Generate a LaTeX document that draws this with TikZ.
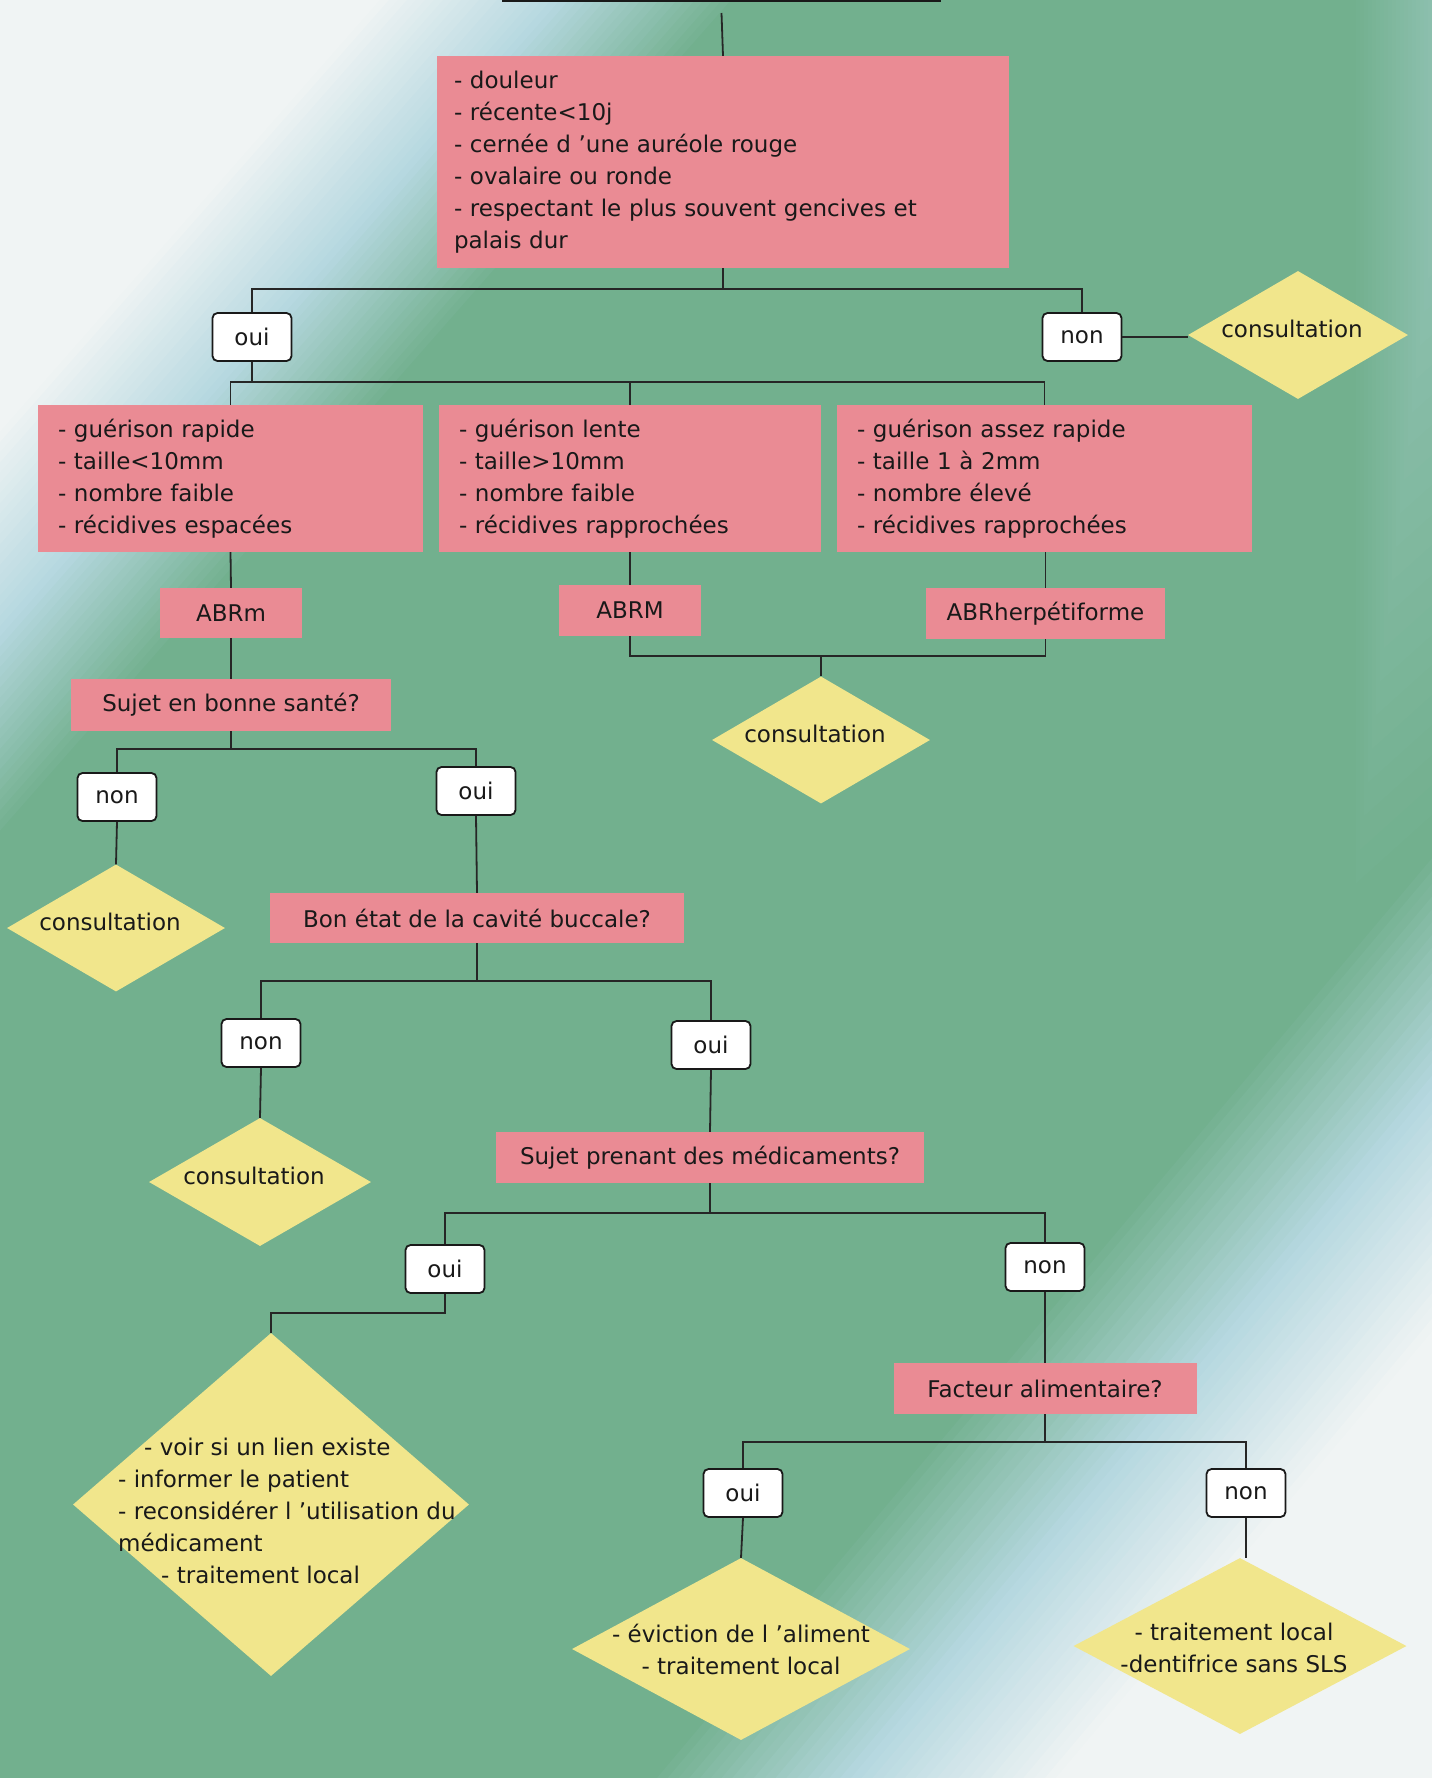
\documentclass[tikz,border=0pt]{standalone}
\usepackage{fontspec}
\setmainfont{DejaVu Sans}
\usetikzlibrary{shapes.geometric}
\definecolor{pinkbox}{RGB}{234,139,148}
\definecolor{yellowd}{RGB}{241,230,140}
\definecolor{bgGreen}{RGB}{114,176,142}
\definecolor{bgBlue}{RGB}{182,216,224}
\definecolor{bgWhite}{RGB}{240,244,244}
\tikzset{
  every node/.style={font=\fontsize{23}{32}\selectfont, text=black!90},
  redbox/.style={fill=pinkbox, inner sep=0pt, align=center},
  diam/.style={diamond, fill=yellowd, inner sep=0pt},
  dtext/.style={inner sep=0pt, align=center},
  wbox/.style={draw=black!90, line width=1.8pt, rounded corners=5pt, fill=white,
    minimum width=79pt, minimum height=48pt, inner sep=0pt},
  conn/.style={line width=1.8pt, black!85},
}
\begin{document}
\begin{tikzpicture}[x=1pt,y=-1pt]
\useasboundingbox (0,0) rectangle (1432,1778);
\begin{scope}
\clip (0,0) rectangle (1432,1778);
\fill[bgGreen] (0,0) rectangle (1432,1778);
% right edge bluish tint (upper part), fading out downwards
\foreach \i in {0,...,20}{
  \pgfmathsetmacro\bandx{1352+4*\i}
  \pgfmathsetmacro\bandy{845-30*\i}
  \pgfmathtruncatemacro\bandq{100-\i*2}
  \colorlet{bandc}{bgGreen!\bandq!bgBlue}
  \fill[bandc] (\bandx,0) -- (1432,0) -- (1432,\bandy) -- (\bandx,{\bandy+0.9*(1432-\bandx)}) -- cycle;
}
% top-left light area
\foreach \i in {40,39,...,0}{
  \pgfmathsetmacro\bandd{380+9*\i}
  \pgfmathtruncatemacro\bandp{\i*5/2}
  \ifnum\bandp>50
    \pgfmathtruncatemacro\bandq{2*\bandp-100}\colorlet{bandc}{bgGreen!\bandq!bgBlue}
  \else
    \pgfmathtruncatemacro\bandq{2*\bandp}\colorlet{bandc}{bgBlue!\bandq!bgWhite}
  \fi
  \fill[bandc] (0,0) -- (\bandd,0) -- (0,{\bandd/0.88}) -- cycle;
}
% bottom-right light area
\foreach \i in {0,...,38}{
  \pgfmathsetmacro\bandd{1990+10*\i}
  \pgfmathsetmacro\bandx{(\bandd-1390.4)/0.928}
  \pgfmathsetmacro\bandy{(\bandd-1328.9)/0.782}
  \pgfmathtruncatemacro\bandp{100-\i*100/38}
  \ifnum\bandp>50
    \pgfmathtruncatemacro\bandq{2*\bandp-100}\colorlet{bandc}{bgGreen!\bandq!bgBlue}
  \else
    \pgfmathtruncatemacro\bandq{2*\bandp}\colorlet{bandc}{bgBlue!\bandq!bgWhite}
  \fi
  \fill[bandc] (\bandx,1778) -- (1432,\bandy) -- (1432,1778) -- cycle;
}
% partly visible box at the top
\node[draw=black!90, line width=2pt, minimum width=437pt, minimum height=62pt] (top) at (721.5,-30) {};
\end{scope}

% red boxes
\node[redbox, minimum width=572pt, minimum height=212pt, text width=538pt, align=left] (big) at (723,162)
  {- douleur\\- récente<10j\\- cernée d ’une auréole rouge\\- ovalaire ou ronde\\- respectant le plus souvent gencives et\\palais dur};
\node[redbox, minimum width=385pt, minimum height=147pt, text width=345pt, align=left] (b1) at (230.5,478.5)
  {- guérison rapide\\- taille<10mm\\- nombre faible\\- récidives espacées};
\node[redbox, minimum width=382pt, minimum height=147pt, text width=342pt, align=left] (b2) at (630,478.5)
  {- guérison lente\\- taille>10mm\\- nombre faible\\- récidives rapprochées};
\node[redbox, minimum width=415pt, minimum height=147pt, text width=375pt, align=left] (b3) at (1044.5,478.5)
  {- guérison assez rapide\\- taille 1 à 2mm\\- nombre élevé\\- récidives rapprochées};
\node[redbox, minimum width=142pt, minimum height=50pt] (abrm) at (231,613) {ABRm};
\node[redbox, minimum width=142pt, minimum height=51pt] (abrM) at (630,610.5) {ABRM};
\node[redbox, minimum width=239pt, minimum height=51pt] (abrh) at (1045.5,613.5) {ABRherpétiforme};
\node[redbox, minimum width=320pt, minimum height=52pt] (sujet) at (231,705) {Sujet en bonne santé?};
\node[redbox, minimum width=414pt, minimum height=50pt] (bon) at (477,918) {Bon état de la cavité buccale?};
\node[redbox, minimum width=428pt, minimum height=51pt] (med) at (710,1157.5) {Sujet prenant des médicaments?};
\node[redbox, minimum width=303pt, minimum height=51pt] (fact) at (1045,1388.5) {Facteur alimentaire?};

% white boxes
\node[wbox] (oui1) at (252,337) {oui};
\node[wbox] (non1) at (1082,337) {non};
\node[wbox] (non2) at (117,797) {non};
\node[wbox] (oui2) at (476,791) {oui};
\node[wbox] (non3) at (261,1043) {non};
\node[wbox] (oui3) at (711,1045) {oui};
\node[wbox] (oui4) at (445,1269) {oui};
\node[wbox] (non4) at (1045,1267) {non};
\node[wbox] (oui5) at (743,1493) {oui};
\node[wbox] (non5) at (1246,1493) {non};

% diamonds
\node[diam, minimum width=220pt, minimum height=128pt] (c1) at (1298,335) {};
\node[dtext] (c1t) at ([xshift=-6pt,yshift=6pt]c1.center) {consultation};
\node[diam, minimum width=218pt, minimum height=127pt] (cM) at (821,740) {};
\node[dtext] (cMt) at ([xshift=-6pt,yshift=6pt]cM.center) {consultation};
\node[diam, minimum width=218pt, minimum height=127pt] (c2) at (116,928) {};
\node[dtext] (c2t) at ([xshift=-6pt,yshift=6pt]c2.center) {consultation};
\node[diam, minimum width=222pt, minimum height=128pt] (c3) at (260,1182) {};
\node[dtext] (c3t) at ([xshift=-6pt,yshift=6pt]c3.center) {consultation};
\node[diam, minimum width=396pt, minimum height=343pt] (dmed) at (271,1504.5) {};
\node[inner sep=0pt, align=left, anchor=west] (dmedt) at (118,1511)
  {\hspace*{26pt}- voir si un lien existe\\- informer le patient\\- reconsidérer l ’utilisation du\\médicament\\\hspace*{43pt}- traitement local};
\node[diam, minimum width=338pt, minimum height=182pt] (dali) at (741,1649) {};
\node[dtext] (dalit) at (741,1649) {- éviction de l ’aliment\\- traitement local};
\node[diam, minimum width=333pt, minimum height=176pt] (dsls) at (1240,1646) {};
\node[dtext] (dslst) at (1234,1648) {- traitement local\\-dentifrice sans SLS};

% connectors
\draw[conn] ([yshift=-11pt]top.south) -- (big.north);
\draw[conn] (big.south) -- ++(0,21) -| (oui1.north);
\draw[conn] (big.south) -- ++(0,21) -| (non1.north);
\draw[conn] (non1.east) -- (non1.east -| c1.west);
\draw[conn] (oui1.south) -- ++(0,20) -| (b1.north);
\draw[conn] (oui1.south) -- ++(0,20) -| (b2.north);
\draw[conn] (oui1.south) -- ++(0,20) -| (b3.north);
\draw[conn] (b1.south) -- (abrm.north);
\draw[conn] (b2.south) -- (abrM.north);
\draw[conn] (b3.south -| abrh.north) -- (abrh.north);
\draw[conn] (abrM.south) -- ++(0,20) -| (abrh.south);
\draw[conn] (abrM.south) -- ++(0,20) -| (cM.north);
\draw[conn] (abrm.south) -- (sujet.north);
\draw[conn] (sujet.south) -- ++(0,18) -| (non2.north);
\draw[conn] (sujet.south) -- ++(0,18) -| (oui2.north);
\draw[conn] (non2.south) -- (c2.north);
\draw[conn] (oui2.south) -- (bon.north);
\draw[conn] (bon.south) -- ++(0,38) -| (non3.north);
\draw[conn] (bon.south) -- ++(0,38) -| (oui3.north);
\draw[conn] (non3.south) -- (c3.north);
\draw[conn] (oui3.south) -- (med.north);
\draw[conn] (med.south) -- ++(0,30) -| (oui4.north);
\draw[conn] (med.south) -- ++(0,30) -| (non4.north);
\draw[conn] (oui4.south) -- ++(0,19) -| (dmed.north);
\draw[conn] (non4.south) -- (fact.north);
\draw[conn] (fact.south) -- ++(0,28) -| (oui5.north);
\draw[conn] (fact.south) -- ++(0,28) -| (non5.north);
\draw[conn] (oui5.south) -- (dali.north);
\draw[conn] (non5.south) -- (non5.south |- dsls.north);
\end{tikzpicture}
\end{document}
